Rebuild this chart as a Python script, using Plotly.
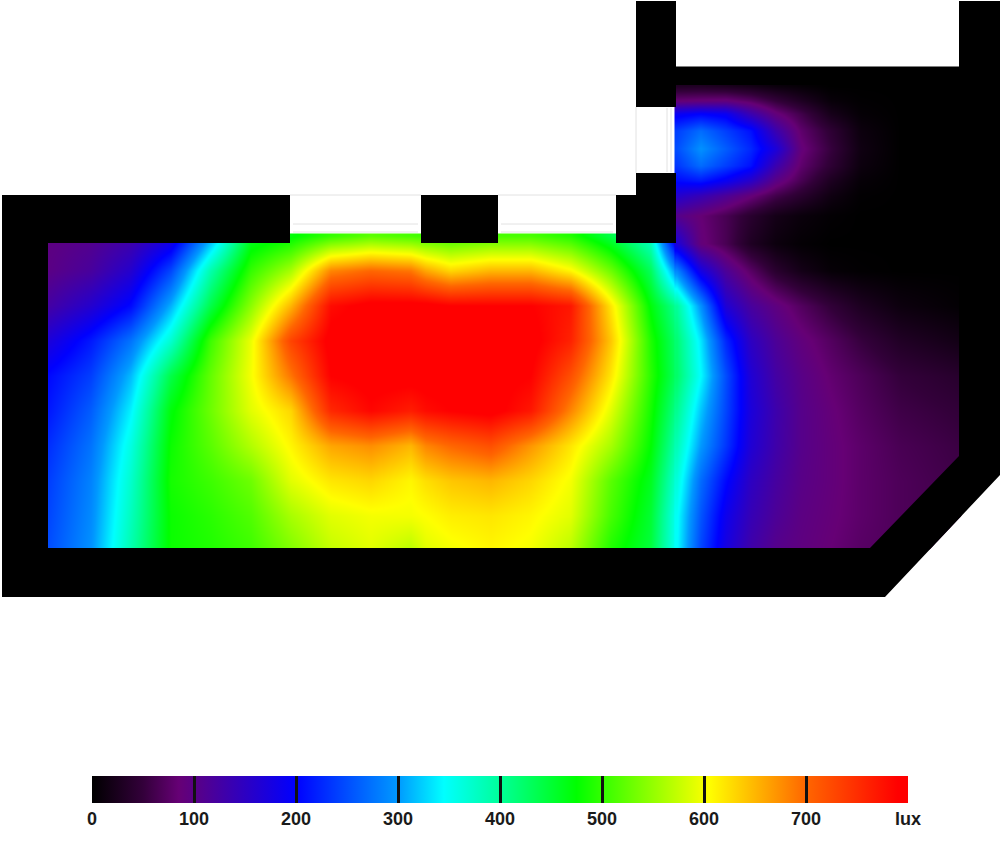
import plotly.graph_objects as go

# ---------- data (lux) ----------
west_x = [48, 90, 130, 170, 210, 250, 290, 330, 370, 410, 425, 450, 490, 530, 570, 610, 650, 676]
west_y = [235, 270, 305, 340, 375, 410, 445, 480, 515, 548]
west_lux = [
    [95, 105, 125, 165, 300, 455, 470, 500, 520, 510, 505, 500, 510, 510, 490, 440, 370, 150],
    [100, 120, 160, 245, 390, 500, 560, 680, 700, 690, 660, 630, 650, 650, 610, 530, 430, 288],
    [125, 160, 205, 310, 440, 545, 650, 780, 800, 800, 800, 790, 790, 790, 770, 620, 470, 400],
    [170, 215, 275, 370, 505, 595, 730, 800, 800, 800, 800, 800, 800, 800, 760, 640, 490, 420],
    [205, 240, 315, 440, 525, 600, 690, 790, 800, 800, 800, 800, 800, 790, 720, 620, 495, 425],
    [215, 260, 340, 470, 530, 590, 630, 755, 785, 765, 780, 790, 800, 770, 680, 590, 485, 405],
    [230, 275, 360, 480, 520, 565, 610, 660, 675, 650, 680, 700, 720, 670, 620, 560, 475, 385],
    [240, 285, 372, 485, 505, 530, 590, 620, 630, 610, 625, 640, 650, 630, 600, 520, 460, 365],
    [245, 290, 380, 480, 495, 515, 560, 590, 600, 600, 605, 615, 620, 610, 590, 510, 450, 350],
    [250, 295, 388, 480, 490, 505, 540, 575, 590, 570, 590, 600, 610, 600, 570, 490, 445, 347],
]

east_x = [676, 700, 725, 750, 775, 800, 830, 860, 900, 960]
east_y = [68, 85, 100, 113, 130, 148, 165, 180, 195, 215, 243, 270, 305, 340, 375, 410, 445, 480, 515, 548]
east_lux = [
    [0, 0, 0, 0, 0, 0, 0, 0, 0, 0],
    [30, 30, 25, 18, 10, 5, 0, 0, 0, 0],
    [85, 88, 90, 75, 50, 30, 8, 2, 0, 0],
    [190, 200, 190, 135, 90, 60, 22, 5, 0, 0],
    [240, 270, 240, 210, 135, 80, 45, 12, 0, 0],
    [250, 295, 260, 225, 170, 90, 52, 15, 0, 0],
    [235, 270, 240, 210, 135, 80, 45, 12, 0, 0],
    [205, 215, 190, 155, 100, 65, 28, 6, 0, 0],
    [160, 140, 115, 88, 60, 40, 15, 2, 0, 0],
    [105, 85, 65, 40, 20, 10, 3, 0, 0, 0],
    [170, 90, 65, 30, 12, 4, 0, 0, 0, 0],
    [288, 177, 115, 75, 40, 20, 6, 2, 0, 0],
    [400, 295, 165, 120, 95, 72, 48, 28, 12, 3],
    [420, 335, 225, 150, 115, 92, 72, 52, 32, 18],
    [425, 345, 250, 165, 125, 102, 82, 68, 50, 38],
    [405, 320, 245, 170, 132, 105, 88, 73, 58, 48],
    [385, 300, 235, 165, 130, 105, 90, 78, 65, 55],
    [365, 270, 205, 150, 122, 102, 90, 78, 68, 58],
    [350, 255, 185, 140, 115, 98, 88, 78, 68, 60],
    [347, 245, 175, 130, 105, 95, 85, 75, 68, 60],
]

scale_ticks = [0, 100, 200, 300, 400, 500, 600, 700, 800]
scale_labels = ["0", "100", "200", "300", "400", "500", "600", "700", "lux"]
scale_stops = [
    (0, "#000000"), (50, "#33003a"), (85, "#660075"), (100, "#5a0085"), (200, "#0000ff"),
    (255, "#0055ff"), (300, "#0099ff"), (345, "#00ffff"), (400, "#00ff99"), (475, "#00ff00"),
    (500, "#33ff00"), (605, "#ffff00"), (700, "#ff6600"), (790, "#ff0000"), (800, "#ff0000"),
]

# ---------- floor plan, in picture units ----------
outside_corner = [(1000, 475), (885, 597), (1000, 597)]
wall_main = [
    (2, 195), (290, 195), (290, 243), (48, 243), (48, 548), (870, 548), (959, 456), (959, 1),
    (1000, 1), (1000, 475), (885, 597), (2, 597),
]
wall_blocks = [
    [(421, 195), (498, 195), (498, 243), (421, 243)],
    [(616, 195), (636, 195), (636, 173), (676, 173), (676, 243), (616, 243)],
    [(636, 1), (676, 1), (676, 107), (636, 107)],
    [(676, 68), (959, 68), (959, 85), (676, 85)],
]
window_lines = [
    (293, 224, 418, 224), (293, 232, 418, 232), (501, 224, 613, 224), (501, 232, 613, 232),
    (290, 195, 421, 195), (498, 195, 616, 195), (636, 107, 636, 173), (667, 108, 667, 172), (671, 108, 671, 172),
]


def path(points):
    return "M" + "L".join(f"{x},{y}" for x, y in points) + "Z"


def tight(x, y, z):
    """Repeat the outer rows and columns 1 unit out, so the smoothed picture stops at the room edge."""
    xs = [x[0] - 1] + x + [x[-1] + 1]
    ys = [y[0] - 1] + y + [y[-1] + 1]
    rows = [[r[0]] + r + [r[-1]] for r in z]
    return xs, ys, [rows[0]] + rows + [rows[-1]]


fig = go.Figure()
for gx, gy, gz in [(west_x, west_y, west_lux), (east_x, east_y, east_lux)]:
    xs, ys, zs = tight(gx, gy, gz)
    fig.add_trace(go.Heatmap(x=xs, y=ys, z=zs, coloraxis="coloraxis", zsmooth="best", hoverinfo="skip"))

shapes = [dict(type="path", path=path(outside_corner), fillcolor="white", line_width=0, layer="above")]
shapes.append(dict(type="path", path=path(wall_main), fillcolor="black", line_width=0, layer="above"))
for block in wall_blocks:
    shapes.append(dict(type="path", path=path(block), fillcolor="black", line_width=0, layer="above"))
for x0, y0, x1, y1 in window_lines:
    shapes.append(dict(type="line", x0=x0, y0=y0, x1=x1, y1=y1, line=dict(color="#e2e2e2", width=1), layer="above"))

fig.update_layout(
    width=1000, height=852, margin=dict(l=0, r=0, t=0, b=0, autoexpand=False),
    paper_bgcolor="white", plot_bgcolor="white", shapes=shapes, showlegend=False,
    xaxis=dict(range=[0, 1000], visible=False, fixedrange=True),
    yaxis=dict(range=[852, 0], visible=False, fixedrange=True),
    coloraxis=dict(
        cmin=0, cmax=800,
        colorscale=[[v / 800, c] for v, c in scale_stops],
        colorbar=dict(
            orientation="h", lenmode="pixels", len=816, thicknessmode="pixels", thickness=27,
            x=92 / 1000, xanchor="left", y=(852 - 776) / 852, yanchor="top", xpad=0, ypad=0,
            tickmode="array", tickvals=scale_ticks, ticktext=scale_labels,
            ticks="inside", ticklen=27, tickwidth=3, tickcolor="#111111",
            tickfont=dict(family="Liberation Sans", size=18, color="#1a1a1a", weight="bold"),
            outlinewidth=0, borderwidth=0,
        ),
    ),
)
fig.write_html(
    "out.html",
    config=dict(displayModeBar=False),
    post_script="document.body.style.margin='0';document.documentElement.style.overflow='hidden';",
)
